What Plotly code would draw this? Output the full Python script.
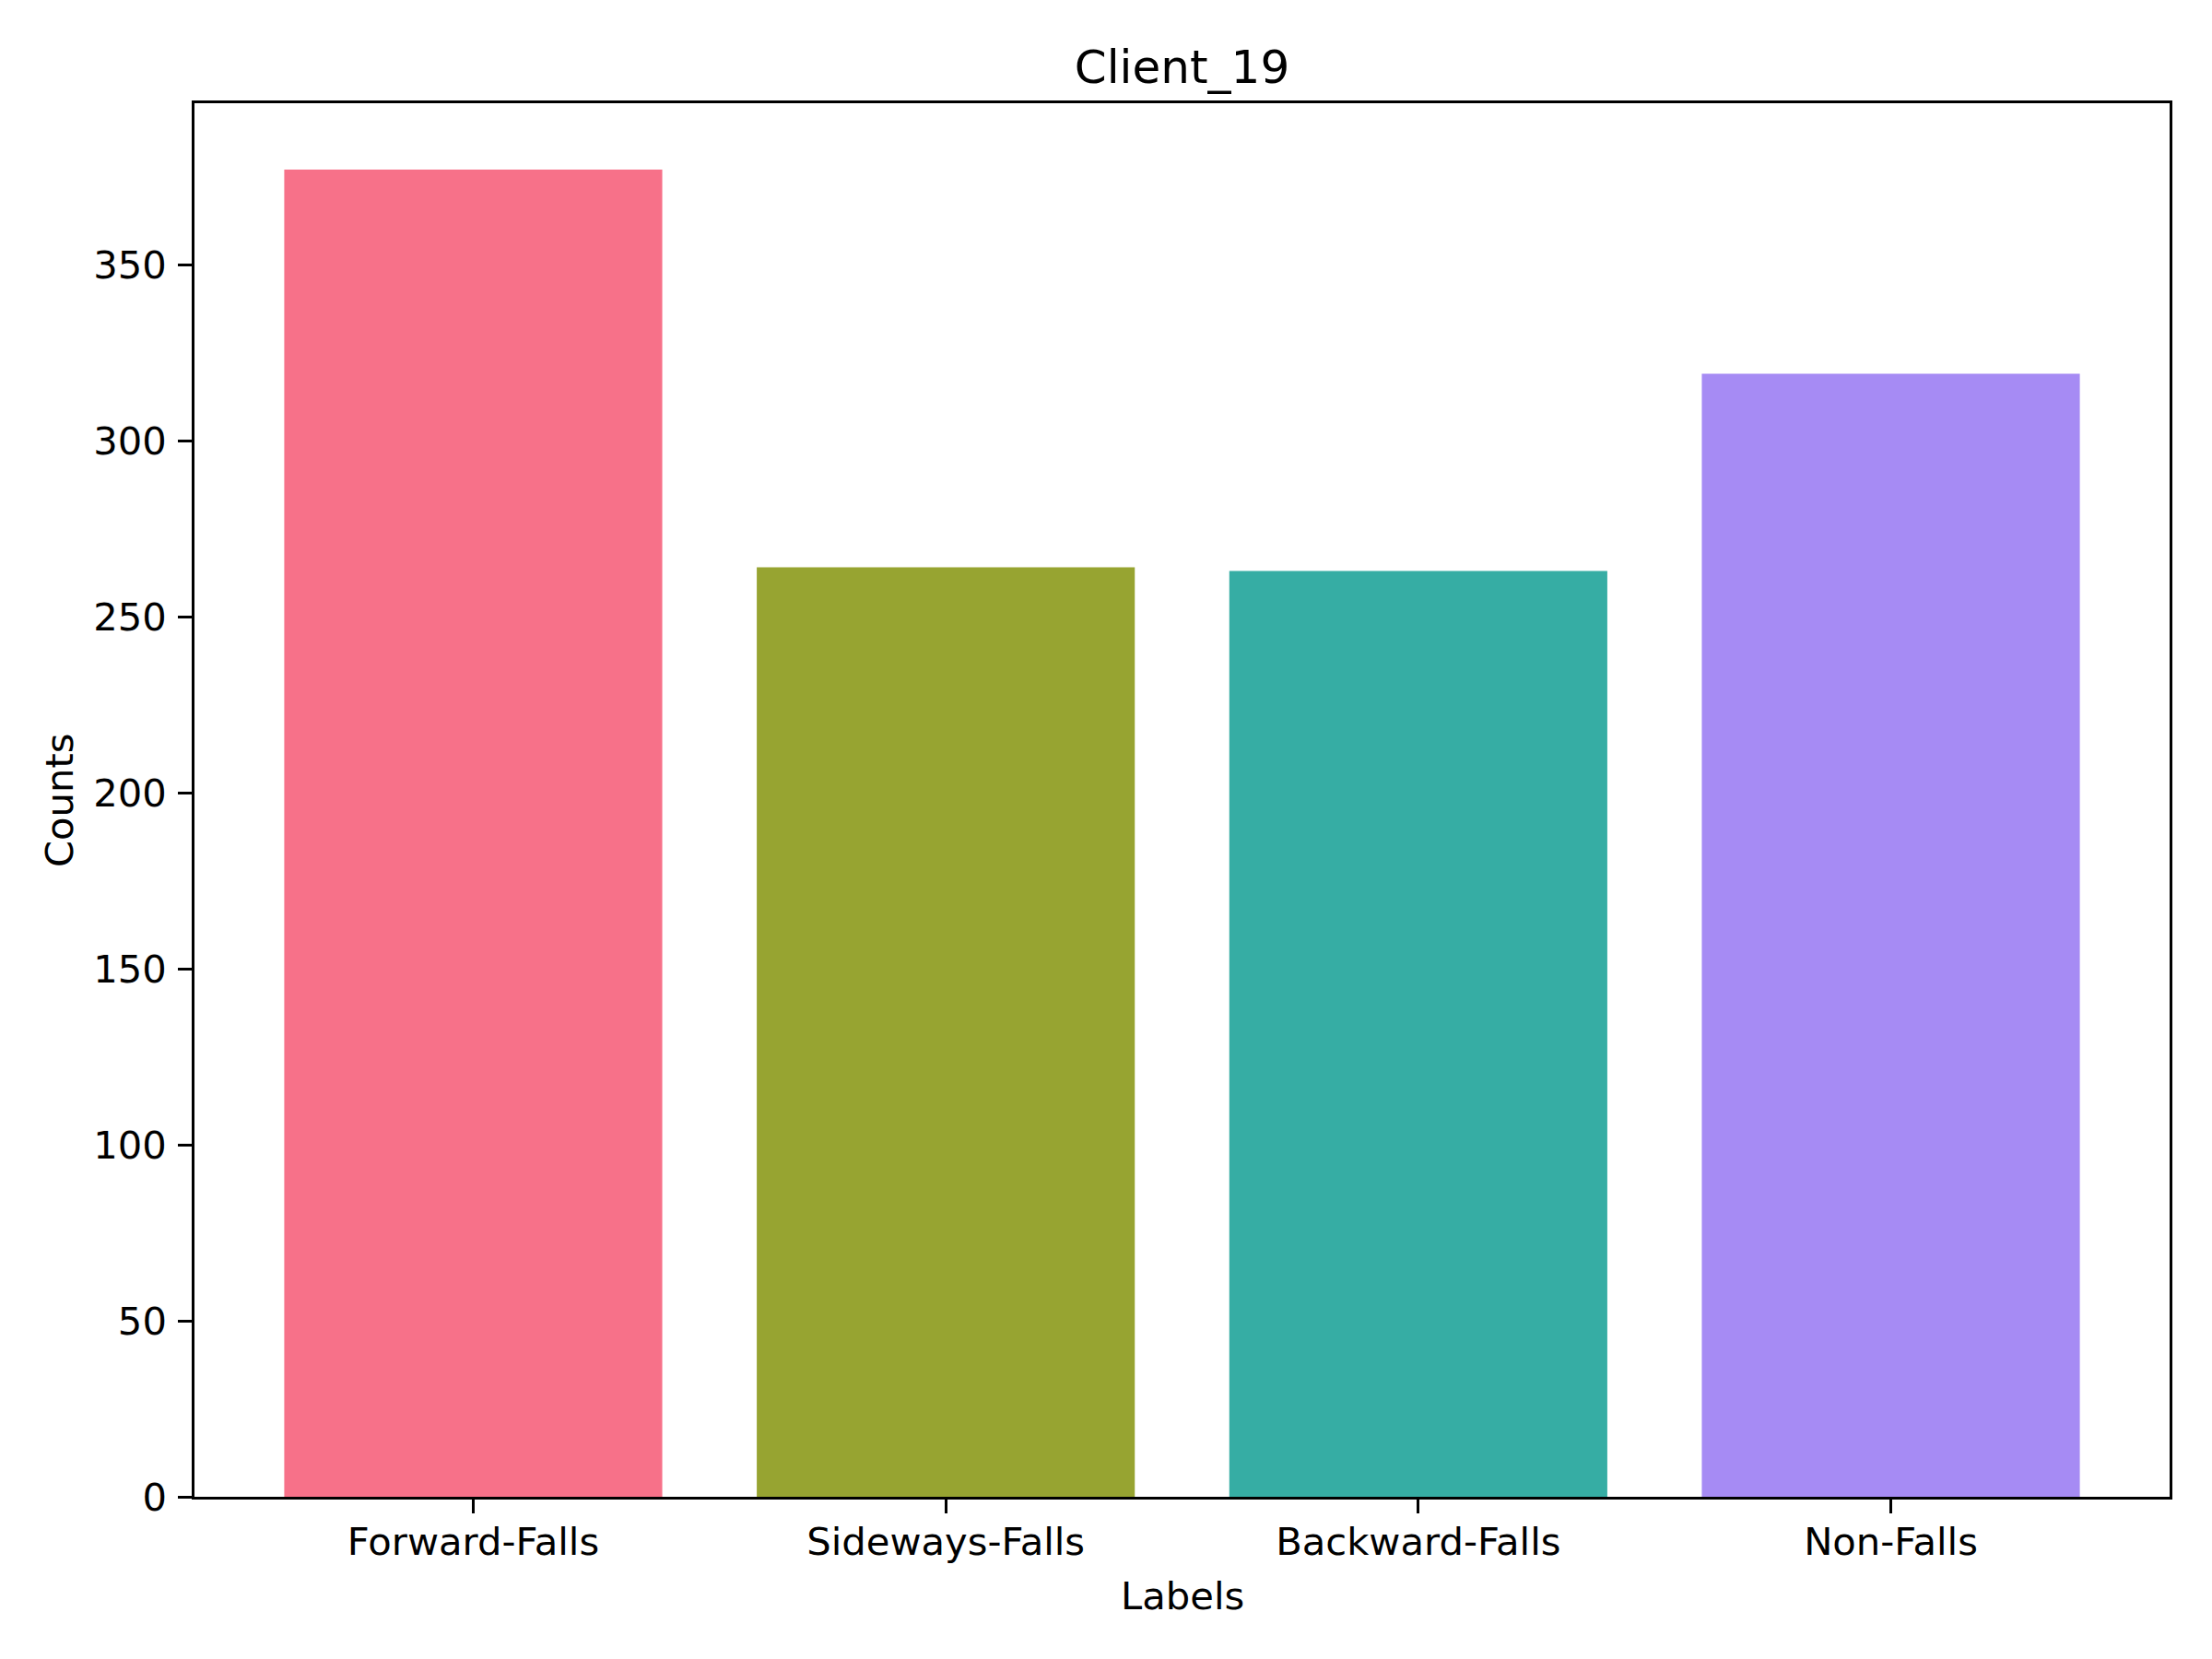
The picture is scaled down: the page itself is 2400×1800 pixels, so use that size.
import plotly.graph_objects as go

categories = ["Forward-Falls", "Sideways-Falls", "Backward-Falls", "Non-Falls"]
counts = [377, 264, 263, 319]
colors = ["#f77189", "#97a431", "#36ada4", "#a68bf4"]
y_ticks = [0, 50, 100, 150, 200, 250, 300, 350]

W, H = 2400, 1800
OFF = 8  # page body margin
L, R, T, B = 211 - OFF, 46 + OFF, 112 - OFF, 176 + OFF
FONT = "DejaVu Sans"
FS = 41.7

fig = go.Figure(go.Bar(
    x=list(range(len(categories))), y=counts, width=0.8,
    marker=dict(color=colors, line=dict(width=0)),
))

ymax = max(counts) * 1.05
pw, ph = W - L - R, H - T - B
fig.update_layout(
    width=W, height=H,
    margin=dict(l=L, r=R, t=T, b=B, autoexpand=False),
    paper_bgcolor="white", plot_bgcolor="white",
    font=dict(family=FONT, size=FS, color="black"),
    showlegend=False,
    title=dict(text="Client_19", font=dict(family=FONT, size=50, color="black"),
               x=(L + pw / 2) / W, xanchor="center",
               y=1 - (72 - OFF) / H, yanchor="middle", yref="container"),
    xaxis=dict(
        range=[-0.59, len(categories) - 1 + 0.59],
        tickmode="array", tickvals=list(range(len(categories))), ticktext=categories,
        showgrid=False, zeroline=False,
        showline=True, linecolor="black", linewidth=3.3, mirror=True,
        ticks="outside", ticklen=14.6, tickwidth=3.3, tickcolor="black",
        ticklabelstandoff=-5,
        tickfont=dict(family=FONT, size=FS, color="black"),
    ),
    yaxis=dict(
        range=[0, ymax],
        tickmode="array", tickvals=y_ticks, ticktext=[str(v) for v in y_ticks],
        showgrid=False, zeroline=False,
        showline=True, linecolor="black", linewidth=3.3, mirror=True,
        ticks="outside", ticklen=14.6, tickwidth=3.3, tickcolor="black",
        ticklabelstandoff=4,
        tickfont=dict(family=FONT, size=FS, color="black"),
    ),
    annotations=[
        dict(text="Labels", xref="paper", yref="paper",
             x=0.5, y=-(1731 - 1624) / ph, xanchor="center", yanchor="middle",
             showarrow=False, font=dict(family=FONT, size=FS, color="black")),
        dict(text="Counts", xref="paper", yref="paper", textangle=-90,
             x=-(211 - 64) / pw, y=0.5, xanchor="center", yanchor="middle",
             showarrow=False, font=dict(family=FONT, size=FS, color="black")),
    ],
)

fig.write_html("out.html")
